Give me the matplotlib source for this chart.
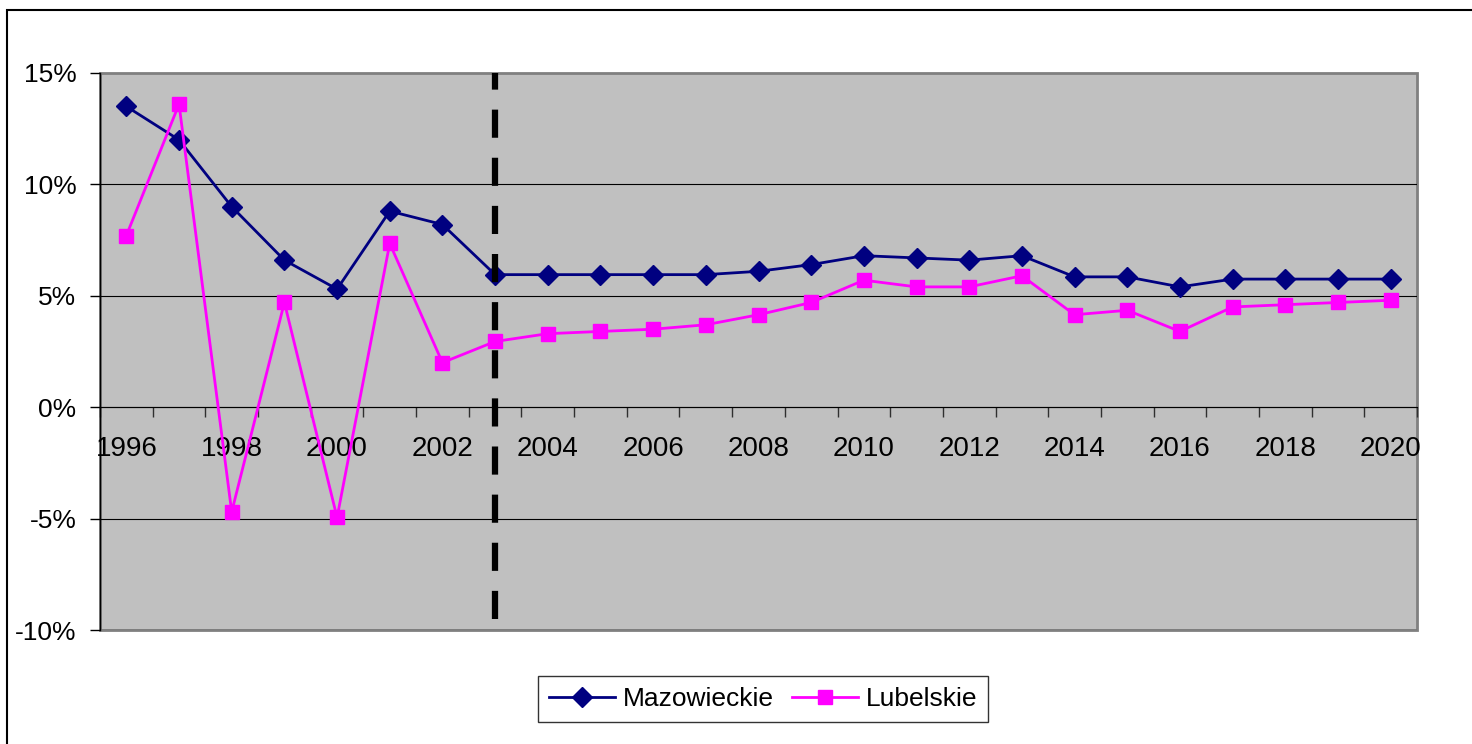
import numpy as np
import matplotlib
matplotlib.use('Agg')
import matplotlib.pyplot as plt
from matplotlib.patches import Rectangle
from matplotlib.ticker import FixedLocator, FuncFormatter

plt.rcParams['font.family'] = ['Liberation Sans', 'DejaVu Sans']

# data (percent growth)
years = list(range(1996, 2021))
mazowieckie = [13.5, 12.0, 9.0, 6.6, 5.3, 8.8, 8.2, 5.95, 5.95, 5.95, 5.95, 5.95, 6.1,
               6.4, 6.8, 6.7, 6.6, 6.8, 5.85, 5.85, 5.4, 5.75, 5.75, 5.75, 5.75]
lubelskie = [7.7, 13.6, -4.7, 4.7, -4.95, 7.35, 2.0, 2.95, 3.3, 3.4, 3.5, 3.7, 4.15,
             4.7, 5.7, 5.4, 5.4, 5.9, 4.15, 4.35, 3.4, 4.5, 4.6, 4.7, 4.8]
split_year = 2003
y_ticks = [-10, -5, 0, 5, 10, 15]

x = np.arange(len(years))

fig = plt.figure(figsize=(14.72, 7.44), dpi=100)
ax = fig.add_axes([100 / 1472, 1 - 630 / 744, 1317 / 1472, 557 / 744])

# outer chart frame
fig.patches.append(Rectangle((7 / 1472, -0.1), 1.2, 1.1 - 10 / 744, transform=fig.transFigure,
                             fill=False, edgecolor='black', linewidth=1.5, clip_on=False))

ax.set_facecolor('#C0C0C0')
ax.patch.set_edgecolor('#808080')
ax.patch.set_linewidth(2)

ax.plot(x, mazowieckie, color='#000080', marker='D', markersize=10, linewidth=2,
        label='Mazowieckie', zorder=3)
ax.plot(x, lubelskie, color='#FF00FF', marker='s', markersize=9.5, linewidth=2,
        label='Lubelskie', zorder=3)

ax.axvline(years.index(split_year), ymin=0.02, ymax=1, color='black', linewidth=4.5,
           dashes=(4.5, 3.2), zorder=5)

ax.set_xlim(-0.5, len(years) - 0.5)
ax.set_ylim(-10, 15)

# y axis
ax.set_yticks(y_ticks)
ax.yaxis.set_major_formatter(FuncFormatter(lambda v, p: f'{v:.0f}%'))
ax.tick_params(axis='y', direction='out', length=7, width=1, pad=10, labelsize=19)
ax.yaxis.grid(True, color='black', linewidth=0.8)
ax.set_axisbelow(True)
# top edge stays the gray border, not a grid line
ax.yaxis.get_gridlines()[-1].set_visible(False)

# x axis crossing at 0, ticks between categories, labels every other year
for s in ['top', 'right']:
    ax.spines[s].set_visible(False)
ax.spines['left'].set_color('black')
ax.spines['left'].set_linewidth(1)
ax.spines['bottom'].set_position(('data', 0))
ax.spines['bottom'].set_color('black')
ax.spines['bottom'].set_linewidth(0.8)
ax.xaxis.set_minor_locator(FixedLocator(np.arange(-0.5, len(years), 1.0)))
ax.set_xticks(x[::2])
ax.set_xticklabels([str(y) for y in years[::2]])
ax.tick_params(axis='x', which='major', length=0, pad=21, labelsize=20)
ax.tick_params(axis='x', which='minor', direction='out', length=7, width=1, color='#303030')

leg = fig.legend(loc='center', bbox_to_anchor=(763 / 1472, 1 - 699 / 744), ncol=2,
                 fontsize=19, frameon=True, fancybox=False, edgecolor='black',
                 handlelength=2.5, handletextpad=0.3, columnspacing=0.7,
                 borderpad=0.4, borderaxespad=0)
leg.get_frame().set_linewidth(1)

fig.savefig('out.png', dpi=100)
